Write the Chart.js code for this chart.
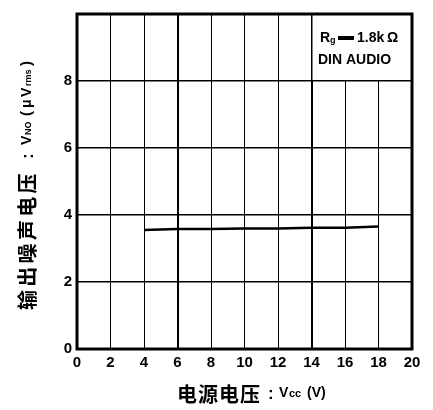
<!DOCTYPE html>
<html>
<head>
    <script src="https://cdn.jsdelivr.net/npm/chart.js"></script>
    <style>
        body { margin: 0; background: #fff; }
        #wrap { width: 433px; height: 410px; }
    </style>
</head>
<body>
    <div id="wrap">
        <canvas id="noiseChart"></canvas>
    </div>

    <script>
        // supply voltage (V) and output noise voltage (uVrms)
        const supplyVolts = [4, 6, 8, 10, 12, 14, 16, 18];
        const noiseVolts = [3.55, 3.58, 3.58, 3.6, 3.6, 3.62, 3.62, 3.66];
        const xTicks = [0, 2, 4, 6, 8, 10, 12, 14, 16, 18, 20];
        const yTicks = [0, 2, 4, 6, 8];

        const LATIN = 'bold 14px "Liberation Sans", Arial, sans-serif';
        const SMALL = 'bold 9px "Liberation Sans", Arial, sans-serif';
        const COLON = 'bold 17px "Liberation Sans", Arial, sans-serif';
        const CJK = 'bold 20px "Noto Sans CJK SC", sans-serif';

        // draws text pieces at fixed offsets along a baseline row
        function drawAt(ctx, y, pieces) {
            ctx.textBaseline = 'middle';
            ctx.textAlign = 'left';
            pieces.forEach(p => {
                ctx.font = p.font;
                ctx.fillText(p.text, p.x, y + (p.dy || 0));
            });
        }

        // spaced CJK characters, one by one
        function drawCJK(ctx, x, y, text, step) {
            ctx.font = CJK;
            ctx.textBaseline = 'middle';
            ctx.textAlign = 'left';
            [...text].forEach((ch, i) => ctx.fillText(ch, x + i * step, y));
        }

        const framePlugin = {
            id: 'frame',
            beforeDatasetsDraw(chart) {
                const { ctx, chartArea: a, scales: { x, y } } = chart;
                // condition box in the top right corner
                const bx = x.getPixelForValue(14), by = y.getPixelForValue(8);
                ctx.save();
                ctx.fillStyle = '#fff';
                ctx.fillRect(bx + 1, a.top, a.right - bx - 1, by - a.top - 1);
                ctx.fillStyle = '#000';
                drawAt(ctx, 38, [
                    { text: 'R', font: LATIN, x: 320 },
                    { text: 'g', font: SMALL, x: 330, dy: 3 }
                ]);
                ctx.fillRect(338, 36, 16, 4);
                drawAt(ctx, 38, [
                    { text: '1.8k', font: LATIN, x: 357 },
                    { text: 'Ω', font: LATIN, x: 387 }
                ]);
                drawAt(ctx, 60, [{ text: 'DIN AUDIO', font: LATIN, x: 318 }]);
                ctx.restore();
            },
            afterDraw(chart) {
                const { ctx, chartArea: a } = chart;
                ctx.save();
                ctx.fillStyle = '#000';
                // x axis title
                drawCJK(ctx, 177, 394, '电源电压', 21);
                drawAt(ctx, 393, [
                    { text: ':', font: COLON, x: 268, dy: 1 },
                    { text: 'V', font: LATIN, x: 279 },
                    { text: 'cc', font: 'bold 11px "Liberation Sans", Arial, sans-serif', x: 289, dy: 1 },
                    { text: '(V)', font: LATIN, x: 307 }
                ]);
                // y axis title, rotated
                ctx.translate(27, 310);
                ctx.rotate(-Math.PI / 2);
                drawCJK(ctx, 0, 0, '输出噪声电压', 23.3);
                drawAt(ctx, 0, [
                    { text: ':', font: COLON, x: 151, dy: 1 },
                    { text: 'V', font: LATIN, x: 165 },
                    { text: 'NO', font: SMALL, x: 175, dy: 2 },
                    { text: '(', font: 'bold 15px "Liberation Sans", Arial, sans-serif', x: 194 },
                    { text: 'μ', font: LATIN, x: 202 },
                    { text: 'V', font: LATIN, x: 213 },
                    { text: 'rms', font: SMALL, x: 224, dy: 2 },
                    { text: ')', font: 'bold 15px "Liberation Sans", Arial, sans-serif', x: 244 }
                ]);
                ctx.restore();
                // heavy border
                ctx.save();
                ctx.strokeStyle = '#000';
                ctx.lineWidth = 3;
                ctx.strokeRect(a.left, a.top, a.right - a.left, a.bottom - a.top);
                ctx.restore();
            }
        };

        new Chart(document.getElementById('noiseChart'), {
            type: 'line',
            data: {
                datasets: [{
                    data: supplyVolts.map((v, i) => ({ x: v, y: noiseVolts[i] })),
                    borderColor: '#000',
                    borderWidth: 2.5,
                    pointRadius: 0,
                    tension: 0,
                    fill: false
                }]
            },
            options: {
                responsive: true,
                maintainAspectRatio: false,
                animation: false,
                layout: { padding: { left: 0, right: 21, top: 14, bottom: 0 } },
                plugins: {
                    legend: { display: false },
                    tooltip: { enabled: false }
                },
                scales: {
                    x: {
                        type: 'linear',
                        min: 0,
                        max: 20,
                        afterBuildTicks: s => { s.ticks = xTicks.map(v => ({ value: v })); },
                        afterFit: s => { s.height = 61; },
                        grid: {
                            color: '#000',
                            lineWidth: c => (c.tick.value === 6 || c.tick.value === 14) ? 2 : 1,
                            drawTicks: false
                        },
                        border: { display: false },
                        ticks: {
                            color: '#000',
                            font: { family: '"Liberation Sans", Arial, sans-serif', size: 15, weight: 'bold' },
                            padding: 5,
                            maxRotation: 0
                        }
                    },
                    y: {
                        min: 0,
                        max: 10,
                        afterBuildTicks: s => { s.ticks = yTicks.concat([10]).map(v => ({ value: v })); },
                        afterFit: s => { s.width = 77; },
                        grid: {
                            color: '#000',
                            lineWidth: 1.5,
                            drawTicks: false
                        },
                        border: { display: false },
                        ticks: {
                            color: '#000',
                            font: { family: '"Liberation Sans", Arial, sans-serif', size: 15, weight: 'bold' },
                            padding: 5,
                            callback: v => v === 10 ? '' : v
                        }
                    }
                }
            },
            plugins: [framePlugin]
        });
    </script>
</body>
</html>
